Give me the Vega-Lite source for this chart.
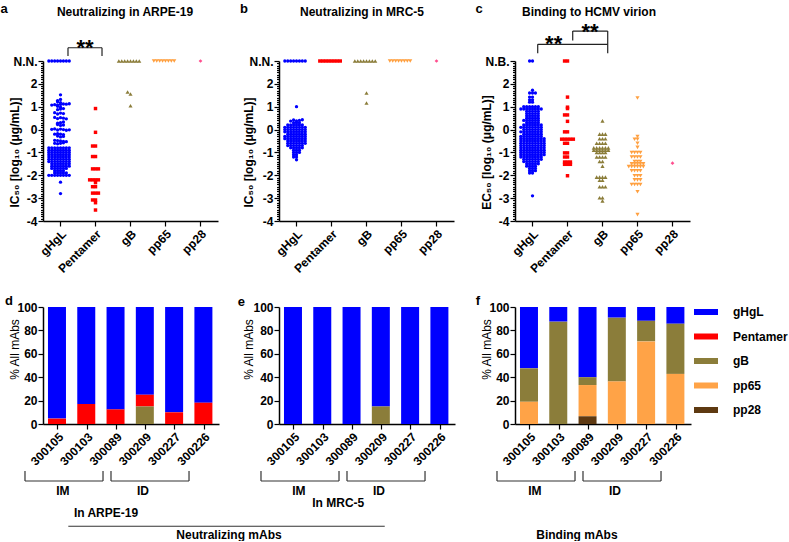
{
"$schema":"https://vega.github.io/schema/vega-lite/v6.json",
"padding":{"left":0,"top":2,"right":0,"bottom":0},
"background":"white",
"config":{"view":{"stroke":null},"font":"Liberation Sans","axis":{"grid":false,"domainColor":"black","tickColor":"black","labelColor":"black","titleColor":"black","labelFont":"Liberation Sans","titleFont":"Liberation Sans","domainWidth":1.5,"tickWidth":1.2}},
"datasets":{
"a":[
{"target":"gHgL","value":3},{"target":"gHgL","value":3},{"target":"gHgL","value":3},{"target":"gHgL","value":3},{"target":"gHgL","value":3},{"target":"gHgL","value":3},{"target":"gHgL","value":3},{"target":"gHgL","value":3},
{"target":"gHgL","value":1.52},{"target":"gHgL","value":1.32},{"target":"gHgL","value":1.27},{"target":"gHgL","value":1.18},{"target":"gHgL","value":1.22},
{"target":"gHgL","value":1.1},{"target":"gHgL","value":1.08},{"target":"gHgL","value":1.12},{"target":"gHgL","value":1.09},{"target":"gHgL","value":1.11},{"target":"gHgL","value":1.07},{"target":"gHgL","value":1.13},
{"target":"gHgL","value":0.98},{"target":"gHgL","value":1.02},{"target":"gHgL","value":0.9},{"target":"gHgL","value":0.87},{"target":"gHgL","value":0.92},
{"target":"gHgL","value":0.72},{"target":"gHgL","value":0.68},{"target":"gHgL","value":0.7},{"target":"gHgL","value":0.74},
{"target":"gHgL","value":0.52},{"target":"gHgL","value":0.48},{"target":"gHgL","value":0.5},{"target":"gHgL","value":0.53},{"target":"gHgL","value":0.47},
{"target":"gHgL","value":0.3},{"target":"gHgL","value":0.28},{"target":"gHgL","value":0.33},{"target":"gHgL","value":0.18},{"target":"gHgL","value":0.22},{"target":"gHgL","value":0.2},
{"target":"gHgL","value":0.02},{"target":"gHgL","value":-0.02},{"target":"gHgL","value":0},{"target":"gHgL","value":0.03},{"target":"gHgL","value":-0.03},{"target":"gHgL","value":0.01},{"target":"gHgL","value":-0.01},
{"target":"gHgL","value":-0.2},{"target":"gHgL","value":-0.18},{"target":"gHgL","value":-0.22},{"target":"gHgL","value":-0.2},
{"target":"gHgL","value":-0.32},{"target":"gHgL","value":-0.28},{"target":"gHgL","value":-0.3},
{"target":"gHgL","value":-0.5},{"target":"gHgL","value":-0.48},{"target":"gHgL","value":-0.52},{"target":"gHgL","value":-0.47},{"target":"gHgL","value":-0.53},
{"target":"gHgL","value":-0.6},{"target":"gHgL","value":-0.62},{"target":"gHgL","value":-0.58},{"target":"gHgL","value":-0.6},
{"target":"gHgL","value":-0.8},{"target":"gHgL","value":-0.8},{"target":"gHgL","value":-0.8},{"target":"gHgL","value":-0.8},{"target":"gHgL","value":-0.8},{"target":"gHgL","value":-0.8},{"target":"gHgL","value":-0.8},{"target":"gHgL","value":-0.8},
{"target":"gHgL","value":-0.9},{"target":"gHgL","value":-0.9},{"target":"gHgL","value":-0.9},{"target":"gHgL","value":-0.9},{"target":"gHgL","value":-0.9},{"target":"gHgL","value":-0.9},{"target":"gHgL","value":-0.9},{"target":"gHgL","value":-0.9},
{"target":"gHgL","value":-1},{"target":"gHgL","value":-1},{"target":"gHgL","value":-1},{"target":"gHgL","value":-1},{"target":"gHgL","value":-1},{"target":"gHgL","value":-1},{"target":"gHgL","value":-1},{"target":"gHgL","value":-1},
{"target":"gHgL","value":-1.1},{"target":"gHgL","value":-1.1},{"target":"gHgL","value":-1.1},{"target":"gHgL","value":-1.1},{"target":"gHgL","value":-1.1},{"target":"gHgL","value":-1.1},{"target":"gHgL","value":-1.1},{"target":"gHgL","value":-1.1},
{"target":"gHgL","value":-1.2},{"target":"gHgL","value":-1.2},{"target":"gHgL","value":-1.2},{"target":"gHgL","value":-1.2},{"target":"gHgL","value":-1.2},{"target":"gHgL","value":-1.2},{"target":"gHgL","value":-1.2},{"target":"gHgL","value":-1.2},
{"target":"gHgL","value":-1.3},{"target":"gHgL","value":-1.3},{"target":"gHgL","value":-1.3},{"target":"gHgL","value":-1.3},{"target":"gHgL","value":-1.3},{"target":"gHgL","value":-1.3},{"target":"gHgL","value":-1.3},{"target":"gHgL","value":-1.3},
{"target":"gHgL","value":-1.4},{"target":"gHgL","value":-1.4},{"target":"gHgL","value":-1.4},{"target":"gHgL","value":-1.4},{"target":"gHgL","value":-1.4},{"target":"gHgL","value":-1.4},{"target":"gHgL","value":-1.4},{"target":"gHgL","value":-1.4},
{"target":"gHgL","value":-1.5},{"target":"gHgL","value":-1.5},{"target":"gHgL","value":-1.5},{"target":"gHgL","value":-1.5},{"target":"gHgL","value":-1.5},{"target":"gHgL","value":-1.5},{"target":"gHgL","value":-1.5},
{"target":"gHgL","value":-1.6},{"target":"gHgL","value":-1.6},{"target":"gHgL","value":-1.6},{"target":"gHgL","value":-1.6},{"target":"gHgL","value":-1.6},{"target":"gHgL","value":-1.6},{"target":"gHgL","value":-1.6},
{"target":"gHgL","value":-1.7},{"target":"gHgL","value":-1.7},{"target":"gHgL","value":-1.7},{"target":"gHgL","value":-1.7},{"target":"gHgL","value":-1.7},{"target":"gHgL","value":-1.7},
{"target":"gHgL","value":-1.8},{"target":"gHgL","value":-1.8},{"target":"gHgL","value":-1.8},{"target":"gHgL","value":-1.8},
{"target":"gHgL","value":-1.9},{"target":"gHgL","value":-1.9},{"target":"gHgL","value":-1.9},{"target":"gHgL","value":-1.9},{"target":"gHgL","value":-1.9},
{"target":"gHgL","value":-2},{"target":"gHgL","value":-2},{"target":"gHgL","value":-2},{"target":"gHgL","value":-2},{"target":"gHgL","value":-2},{"target":"gHgL","value":-2},{"target":"gHgL","value":-2},{"target":"gHgL","value":-2},
{"target":"gHgL","value":-2.3},{"target":"gHgL","value":-2.8},
{"target":"Pentamer","value":0.92},{"target":"Pentamer","value":-0.12},{"target":"Pentamer","value":-0.72},{"target":"Pentamer","value":-0.72},{"target":"Pentamer","value":-1.18},{"target":"Pentamer","value":-1.18},
{"target":"Pentamer","value":-1.72},{"target":"Pentamer","value":-1.72},{"target":"Pentamer","value":-1.72},
{"target":"Pentamer","value":-2.2},{"target":"Pentamer","value":-2.2},{"target":"Pentamer","value":-2.2},{"target":"Pentamer","value":-2.2},{"target":"Pentamer","value":-2.32},
{"target":"Pentamer","value":-2.5},{"target":"Pentamer","value":-2.5},{"target":"Pentamer","value":-2.78},{"target":"Pentamer","value":-2.78},{"target":"Pentamer","value":-2.78},
{"target":"Pentamer","value":-3.08},{"target":"Pentamer","value":-3.08},{"target":"Pentamer","value":-3.2},{"target":"Pentamer","value":-3.52},
{"target":"gB","value":3},{"target":"gB","value":3},{"target":"gB","value":3},{"target":"gB","value":3},{"target":"gB","value":3},{"target":"gB","value":3},{"target":"gB","value":3},{"target":"gB","value":3},
{"target":"gB","value":1.56},{"target":"gB","value":1.64},{"target":"gB","value":1.04},
{"target":"pp65","value":3},{"target":"pp65","value":3},{"target":"pp65","value":3},{"target":"pp65","value":3},{"target":"pp65","value":3},{"target":"pp65","value":3},{"target":"pp65","value":3},{"target":"pp65","value":3},
{"target":"pp28","value":3}
],
"b":[
{"target":"gHgL","value":3},{"target":"gHgL","value":3},{"target":"gHgL","value":3},{"target":"gHgL","value":3},{"target":"gHgL","value":3},{"target":"gHgL","value":3},{"target":"gHgL","value":3},{"target":"gHgL","value":3},
{"target":"gHgL","value":1},
{"target":"gHgL","value":0.38},{"target":"gHgL","value":0.42},{"target":"gHgL","value":0.4},{"target":"gHgL","value":0.37},{"target":"gHgL","value":0.43},
{"target":"gHgL","value":0.3},{"target":"gHgL","value":0.3},{"target":"gHgL","value":0.3},
{"target":"gHgL","value":0.2},{"target":"gHgL","value":0.2},{"target":"gHgL","value":0.2},{"target":"gHgL","value":0.2},{"target":"gHgL","value":0.2},{"target":"gHgL","value":0.2},
{"target":"gHgL","value":0.1},{"target":"gHgL","value":0.1},{"target":"gHgL","value":0.1},{"target":"gHgL","value":0.1},{"target":"gHgL","value":0.1},{"target":"gHgL","value":0.1},{"target":"gHgL","value":0.1},{"target":"gHgL","value":0.1},
{"target":"gHgL","value":0},{"target":"gHgL","value":0},{"target":"gHgL","value":0},{"target":"gHgL","value":0},{"target":"gHgL","value":0},{"target":"gHgL","value":0},{"target":"gHgL","value":0},{"target":"gHgL","value":0},
{"target":"gHgL","value":-0.1},{"target":"gHgL","value":-0.1},{"target":"gHgL","value":-0.1},{"target":"gHgL","value":-0.1},{"target":"gHgL","value":-0.1},{"target":"gHgL","value":-0.1},{"target":"gHgL","value":-0.1},{"target":"gHgL","value":-0.1},
{"target":"gHgL","value":-0.2},{"target":"gHgL","value":-0.2},{"target":"gHgL","value":-0.2},{"target":"gHgL","value":-0.2},{"target":"gHgL","value":-0.2},{"target":"gHgL","value":-0.2},{"target":"gHgL","value":-0.2},
{"target":"gHgL","value":-0.3},{"target":"gHgL","value":-0.3},{"target":"gHgL","value":-0.3},{"target":"gHgL","value":-0.3},{"target":"gHgL","value":-0.3},{"target":"gHgL","value":-0.3},{"target":"gHgL","value":-0.3},{"target":"gHgL","value":-0.3},
{"target":"gHgL","value":-0.4},{"target":"gHgL","value":-0.4},{"target":"gHgL","value":-0.4},{"target":"gHgL","value":-0.4},{"target":"gHgL","value":-0.4},{"target":"gHgL","value":-0.4},{"target":"gHgL","value":-0.4},{"target":"gHgL","value":-0.4},
{"target":"gHgL","value":-0.5},{"target":"gHgL","value":-0.5},{"target":"gHgL","value":-0.5},{"target":"gHgL","value":-0.5},{"target":"gHgL","value":-0.5},{"target":"gHgL","value":-0.5},{"target":"gHgL","value":-0.5},
{"target":"gHgL","value":-0.6},{"target":"gHgL","value":-0.6},{"target":"gHgL","value":-0.6},{"target":"gHgL","value":-0.6},{"target":"gHgL","value":-0.6},{"target":"gHgL","value":-0.6},{"target":"gHgL","value":-0.6},
{"target":"gHgL","value":-0.7},{"target":"gHgL","value":-0.7},{"target":"gHgL","value":-0.7},{"target":"gHgL","value":-0.7},{"target":"gHgL","value":-0.7},{"target":"gHgL","value":-0.7},
{"target":"gHgL","value":-0.8},{"target":"gHgL","value":-0.8},{"target":"gHgL","value":-0.8},{"target":"gHgL","value":-0.8},{"target":"gHgL","value":-0.8},
{"target":"gHgL","value":-0.9},{"target":"gHgL","value":-0.9},{"target":"gHgL","value":-0.9},
{"target":"gHgL","value":-1},{"target":"gHgL","value":-1},{"target":"gHgL","value":-1},
{"target":"gHgL","value":-1.1},{"target":"gHgL","value":-1.1},{"target":"gHgL","value":-1.2},{"target":"gHgL","value":-1.2},{"target":"gHgL","value":-1.32},
{"target":"Pentamer","value":3},{"target":"Pentamer","value":3},{"target":"Pentamer","value":3},{"target":"Pentamer","value":3},{"target":"Pentamer","value":3},{"target":"Pentamer","value":3},{"target":"Pentamer","value":3},{"target":"Pentamer","value":3},
{"target":"gB","value":3},{"target":"gB","value":3},{"target":"gB","value":3},{"target":"gB","value":3},{"target":"gB","value":3},{"target":"gB","value":3},{"target":"gB","value":3},{"target":"gB","value":3},
{"target":"gB","value":1.6},{"target":"gB","value":1.16},
{"target":"pp65","value":3},{"target":"pp65","value":3},{"target":"pp65","value":3},{"target":"pp65","value":3},{"target":"pp65","value":3},{"target":"pp65","value":3},{"target":"pp65","value":3},{"target":"pp65","value":3},
{"target":"pp28","value":3}
],
"c":[
{"target":"gHgL","value":3},{"target":"gHgL","value":3},
{"target":"gHgL","value":1.72},{"target":"gHgL","value":1.6},{"target":"gHgL","value":1.6},{"target":"gHgL","value":1.6},
{"target":"gHgL","value":1.42},{"target":"gHgL","value":1.42},{"target":"gHgL","value":1.3},{"target":"gHgL","value":1.3},{"target":"gHgL","value":1.2},{"target":"gHgL","value":1.2},
{"target":"gHgL","value":1},{"target":"gHgL","value":1},{"target":"gHgL","value":1},{"target":"gHgL","value":1},{"target":"gHgL","value":1},{"target":"gHgL","value":1},
{"target":"gHgL","value":0.9},{"target":"gHgL","value":0.9},{"target":"gHgL","value":0.9},{"target":"gHgL","value":0.9},{"target":"gHgL","value":0.9},{"target":"gHgL","value":0.9},{"target":"gHgL","value":0.9},{"target":"gHgL","value":0.9},
{"target":"gHgL","value":0.8},{"target":"gHgL","value":0.8},{"target":"gHgL","value":0.8},{"target":"gHgL","value":0.8},{"target":"gHgL","value":0.8},
{"target":"gHgL","value":0.7},{"target":"gHgL","value":0.7},{"target":"gHgL","value":0.7},{"target":"gHgL","value":0.7},{"target":"gHgL","value":0.7},
{"target":"gHgL","value":0.6},{"target":"gHgL","value":0.6},{"target":"gHgL","value":0.6},{"target":"gHgL","value":0.6},{"target":"gHgL","value":0.6},
{"target":"gHgL","value":0.5},{"target":"gHgL","value":0.5},{"target":"gHgL","value":0.5},{"target":"gHgL","value":0.5},{"target":"gHgL","value":0.5},
{"target":"gHgL","value":0.4},{"target":"gHgL","value":0.4},{"target":"gHgL","value":0.4},{"target":"gHgL","value":0.4},{"target":"gHgL","value":0.4},{"target":"gHgL","value":0.4},
{"target":"gHgL","value":0.3},{"target":"gHgL","value":0.3},{"target":"gHgL","value":0.3},{"target":"gHgL","value":0.3},{"target":"gHgL","value":0.3},
{"target":"gHgL","value":0.2},{"target":"gHgL","value":0.2},{"target":"gHgL","value":0.2},{"target":"gHgL","value":0.2},{"target":"gHgL","value":0.2},{"target":"gHgL","value":0.2},{"target":"gHgL","value":0.2},
{"target":"gHgL","value":0.1},{"target":"gHgL","value":0.1},{"target":"gHgL","value":0.1},{"target":"gHgL","value":0.1},{"target":"gHgL","value":0.1},{"target":"gHgL","value":0.1},{"target":"gHgL","value":0.1},{"target":"gHgL","value":0.1},
{"target":"gHgL","value":0},{"target":"gHgL","value":0},{"target":"gHgL","value":0},{"target":"gHgL","value":0},{"target":"gHgL","value":0},{"target":"gHgL","value":0},{"target":"gHgL","value":0},
{"target":"gHgL","value":-0.1},{"target":"gHgL","value":-0.1},{"target":"gHgL","value":-0.1},{"target":"gHgL","value":-0.1},{"target":"gHgL","value":-0.1},{"target":"gHgL","value":-0.1},{"target":"gHgL","value":-0.1},{"target":"gHgL","value":-0.1},
{"target":"gHgL","value":-0.2},{"target":"gHgL","value":-0.2},{"target":"gHgL","value":-0.2},{"target":"gHgL","value":-0.2},{"target":"gHgL","value":-0.2},{"target":"gHgL","value":-0.2},{"target":"gHgL","value":-0.2},
{"target":"gHgL","value":-0.3},{"target":"gHgL","value":-0.3},{"target":"gHgL","value":-0.3},{"target":"gHgL","value":-0.3},{"target":"gHgL","value":-0.3},{"target":"gHgL","value":-0.3},{"target":"gHgL","value":-0.3},{"target":"gHgL","value":-0.3},
{"target":"gHgL","value":-0.4},{"target":"gHgL","value":-0.4},{"target":"gHgL","value":-0.4},{"target":"gHgL","value":-0.4},{"target":"gHgL","value":-0.4},{"target":"gHgL","value":-0.4},{"target":"gHgL","value":-0.4},{"target":"gHgL","value":-0.4},{"target":"gHgL","value":-0.4},
{"target":"gHgL","value":-0.5},{"target":"gHgL","value":-0.5},{"target":"gHgL","value":-0.5},{"target":"gHgL","value":-0.5},{"target":"gHgL","value":-0.5},{"target":"gHgL","value":-0.5},{"target":"gHgL","value":-0.5},{"target":"gHgL","value":-0.5},{"target":"gHgL","value":-0.5},
{"target":"gHgL","value":-0.6},{"target":"gHgL","value":-0.6},{"target":"gHgL","value":-0.6},{"target":"gHgL","value":-0.6},{"target":"gHgL","value":-0.6},{"target":"gHgL","value":-0.6},{"target":"gHgL","value":-0.6},{"target":"gHgL","value":-0.6},{"target":"gHgL","value":-0.6},
{"target":"gHgL","value":-0.7},{"target":"gHgL","value":-0.7},{"target":"gHgL","value":-0.7},{"target":"gHgL","value":-0.7},{"target":"gHgL","value":-0.7},{"target":"gHgL","value":-0.7},{"target":"gHgL","value":-0.7},{"target":"gHgL","value":-0.7},{"target":"gHgL","value":-0.7},
{"target":"gHgL","value":-0.8},{"target":"gHgL","value":-0.8},{"target":"gHgL","value":-0.8},{"target":"gHgL","value":-0.8},{"target":"gHgL","value":-0.8},{"target":"gHgL","value":-0.8},{"target":"gHgL","value":-0.8},{"target":"gHgL","value":-0.8},{"target":"gHgL","value":-0.8},
{"target":"gHgL","value":-0.9},{"target":"gHgL","value":-0.9},{"target":"gHgL","value":-0.9},{"target":"gHgL","value":-0.9},{"target":"gHgL","value":-0.9},{"target":"gHgL","value":-0.9},{"target":"gHgL","value":-0.9},{"target":"gHgL","value":-0.9},{"target":"gHgL","value":-0.9},
{"target":"gHgL","value":-1},{"target":"gHgL","value":-1},{"target":"gHgL","value":-1},{"target":"gHgL","value":-1},{"target":"gHgL","value":-1},{"target":"gHgL","value":-1},{"target":"gHgL","value":-1},{"target":"gHgL","value":-1},{"target":"gHgL","value":-1},
{"target":"gHgL","value":-1.1},{"target":"gHgL","value":-1.1},{"target":"gHgL","value":-1.1},{"target":"gHgL","value":-1.1},{"target":"gHgL","value":-1.1},{"target":"gHgL","value":-1.1},{"target":"gHgL","value":-1.1},{"target":"gHgL","value":-1.1},{"target":"gHgL","value":-1.1},
{"target":"gHgL","value":-1.2},{"target":"gHgL","value":-1.2},{"target":"gHgL","value":-1.2},{"target":"gHgL","value":-1.2},{"target":"gHgL","value":-1.2},{"target":"gHgL","value":-1.2},{"target":"gHgL","value":-1.2},{"target":"gHgL","value":-1.2},
{"target":"gHgL","value":-1.3},{"target":"gHgL","value":-1.3},{"target":"gHgL","value":-1.3},{"target":"gHgL","value":-1.3},{"target":"gHgL","value":-1.3},{"target":"gHgL","value":-1.3},{"target":"gHgL","value":-1.3},
{"target":"gHgL","value":-1.4},{"target":"gHgL","value":-1.4},{"target":"gHgL","value":-1.4},{"target":"gHgL","value":-1.4},{"target":"gHgL","value":-1.4},{"target":"gHgL","value":-1.4},
{"target":"gHgL","value":-1.5},{"target":"gHgL","value":-1.5},{"target":"gHgL","value":-1.5},{"target":"gHgL","value":-1.5},{"target":"gHgL","value":-1.5},
{"target":"gHgL","value":-1.6},{"target":"gHgL","value":-1.6},{"target":"gHgL","value":-1.6},{"target":"gHgL","value":-1.6},
{"target":"gHgL","value":-1.7},{"target":"gHgL","value":-1.7},{"target":"gHgL","value":-1.7},
{"target":"gHgL","value":-1.8},{"target":"gHgL","value":-1.8},{"target":"gHgL","value":-1.8},
{"target":"gHgL","value":-1.9},{"target":"gHgL","value":-1.9},{"target":"gHgL","value":-2.9},
{"target":"Pentamer","value":3},{"target":"Pentamer","value":3},{"target":"Pentamer","value":1.42},{"target":"Pentamer","value":0.98},{"target":"Pentamer","value":0.92},
{"target":"Pentamer","value":0.64},{"target":"Pentamer","value":0.64},{"target":"Pentamer","value":0.36},{"target":"Pentamer","value":-0.1},{"target":"Pentamer","value":-0.1},
{"target":"Pentamer","value":-0.42},{"target":"Pentamer","value":-0.42},{"target":"Pentamer","value":-0.42},{"target":"Pentamer","value":-0.42},{"target":"Pentamer","value":-0.42},
{"target":"Pentamer","value":-0.6},{"target":"Pentamer","value":-0.6},{"target":"Pentamer","value":-1.02},{"target":"Pentamer","value":-1.02},{"target":"Pentamer","value":-1.2},{"target":"Pentamer","value":-1.2},
{"target":"Pentamer","value":-1.42},{"target":"Pentamer","value":-1.42},{"target":"Pentamer","value":-1.42},{"target":"Pentamer","value":-1.52},{"target":"Pentamer","value":-1.52},{"target":"Pentamer","value":-1.52},{"target":"Pentamer","value":-2.02},
{"target":"gB","value":0.38},{"target":"gB","value":-0.2},{"target":"gB","value":-0.2},{"target":"gB","value":-0.2},{"target":"gB","value":-0.4},{"target":"gB","value":-0.4},{"target":"gB","value":-0.4},
{"target":"gB","value":-0.6},{"target":"gB","value":-0.6},{"target":"gB","value":-0.6},{"target":"gB","value":-0.6},
{"target":"gB","value":-0.8},{"target":"gB","value":-0.8},{"target":"gB","value":-0.8},{"target":"gB","value":-0.8},{"target":"gB","value":-0.8},{"target":"gB","value":-0.8},
{"target":"gB","value":-0.9},{"target":"gB","value":-0.9},{"target":"gB","value":-0.9},{"target":"gB","value":-0.9},{"target":"gB","value":-0.9},{"target":"gB","value":-0.9},
{"target":"gB","value":-1},{"target":"gB","value":-1},{"target":"gB","value":-1},{"target":"gB","value":-1},
{"target":"gB","value":-1.2},{"target":"gB","value":-1.2},{"target":"gB","value":-1.2},{"target":"gB","value":-1.2},
{"target":"gB","value":-1.4},{"target":"gB","value":-1.4},{"target":"gB","value":-1.6},
{"target":"gB","value":-2.08},{"target":"gB","value":-2.08},{"target":"gB","value":-2.08},{"target":"gB","value":-2.08},{"target":"gB","value":-2.22},{"target":"gB","value":-2.22},
{"target":"gB","value":-2.5},{"target":"gB","value":-2.5},{"target":"gB","value":-2.5},{"target":"gB","value":-2.98},{"target":"gB","value":-2.98},{"target":"gB","value":-3.12},
{"target":"pp65","value":1.38},{"target":"pp65","value":-0.3},{"target":"pp65","value":-0.42},{"target":"pp65","value":-0.42},{"target":"pp65","value":-0.6},{"target":"pp65","value":-0.78},
{"target":"pp65","value":-1},{"target":"pp65","value":-1},{"target":"pp65","value":-1},{"target":"pp65","value":-1},
{"target":"pp65","value":-1.2},{"target":"pp65","value":-1.2},{"target":"pp65","value":-1.2},{"target":"pp65","value":-1.2},
{"target":"pp65","value":-1.4},{"target":"pp65","value":-1.4},{"target":"pp65","value":-1.4},
{"target":"pp65","value":-1.5},{"target":"pp65","value":-1.5},{"target":"pp65","value":-1.5},{"target":"pp65","value":-1.5},{"target":"pp65","value":-1.5},
{"target":"pp65","value":-1.62},{"target":"pp65","value":-1.62},{"target":"pp65","value":-1.62},{"target":"pp65","value":-1.62},{"target":"pp65","value":-1.62},{"target":"pp65","value":-1.62},
{"target":"pp65","value":-1.8},{"target":"pp65","value":-1.8},{"target":"pp65","value":-1.8},{"target":"pp65","value":-1.8},
{"target":"pp65","value":-2.02},{"target":"pp65","value":-2.02},{"target":"pp65","value":-2.02},{"target":"pp65","value":-2.2},{"target":"pp65","value":-2.2},{"target":"pp65","value":-2.2},
{"target":"pp65","value":-2.4},{"target":"pp65","value":-2.4},{"target":"pp65","value":-2.4},{"target":"pp65","value":-2.4},{"target":"pp65","value":-2.72},{"target":"pp65","value":-3.72},
{"target":"pp28","value":-1.47}
],
"d":[
{"donor":"300105","target":"gHgL","pct":95.4},{"donor":"300105","target":"Pentamer","pct":4.6},
{"donor":"300103","target":"gHgL","pct":82.9},{"donor":"300103","target":"Pentamer","pct":17.1},
{"donor":"300089","target":"gHgL","pct":87.5},{"donor":"300089","target":"Pentamer","pct":12.5},
{"donor":"300209","target":"gHgL","pct":75},{"donor":"300209","target":"Pentamer","pct":10},{"donor":"300209","target":"gB","pct":15},
{"donor":"300227","target":"gHgL","pct":90},{"donor":"300227","target":"Pentamer","pct":10},
{"donor":"300226","target":"gHgL","pct":81.8},{"donor":"300226","target":"Pentamer","pct":18.2}
],
"e":[
{"donor":"300105","target":"gHgL","pct":100},{"donor":"300103","target":"gHgL","pct":100},{"donor":"300089","target":"gHgL","pct":100},
{"donor":"300209","target":"gHgL","pct":85},{"donor":"300209","target":"gB","pct":15},
{"donor":"300227","target":"gHgL","pct":100},{"donor":"300226","target":"gHgL","pct":100}
],
"f":[
{"donor":"300105","target":"gHgL","pct":52.4},{"donor":"300105","target":"gB","pct":28.6},{"donor":"300105","target":"pp65","pct":19},
{"donor":"300103","target":"gHgL","pct":12.5},{"donor":"300103","target":"gB","pct":87.5},
{"donor":"300089","target":"gHgL","pct":60},{"donor":"300089","target":"gB","pct":6.7},{"donor":"300089","target":"pp65","pct":26.7},{"donor":"300089","target":"pp28","pct":6.6},
{"donor":"300209","target":"gHgL","pct":9.1},{"donor":"300209","target":"gB","pct":54.5},{"donor":"300209","target":"pp65","pct":36.4},
{"donor":"300227","target":"gHgL","pct":11.8},{"donor":"300227","target":"gB","pct":17.6},{"donor":"300227","target":"pp65","pct":70.6},
{"donor":"300226","target":"gHgL","pct":14.3},{"donor":"300226","target":"gB","pct":42.9},{"donor":"300226","target":"pp65","pct":42.8}
]
},
"concat":[
{"width":175,"height":160,
"layer":[
{"data":{"name":"a"},
"transform":[{"bin":{"step":0.1,"extent":[-4.05,3.15],"nice":false},"field":"value","as":"vbin"},{"window":[{"op":"row_number","as":"slot"}],"groupby":["target","vbin"]}],
"mark":{"type":"point","filled":true,"opacity":1,"strokeWidth":0},
"encoding":{
"x":{"field":"target","type":"nominal","scale":{"domain":["gHgL","Pentamer","gB","pp65","pp28"],"paddingInner":0,"paddingOuter":0},"axis":{"title":null,"labelAngle":-45,"labelFontSize":12,"labelFontWeight":"bold","tickSize":5,"labelPadding":2}},
"xOffset":{"field":"slot","type":"nominal","scale":{"domain":[12,10,8,6,4,2,1,3,5,7,9,11,13],"paddingInner":0,"paddingOuter":0}},
"y":{"field":"value","type":"quantitative","scale":{"domain":[-4,3],"nice":false,"zero":false},"axis":{"title":"IC₅₀ [log₁₀ (μg/mL)]","titleFontSize":12,"titleFontWeight":"bold","titleX":-29,"titleY":91,"titleAngle":270,"titleAlign":"center","titleBaseline":"middle","values":[-4,-3.9,-3.8,-3.7,-3.6,-3.5,-3.4,-3.3,-3.2,-3.1,-3,-2.9,-2.8,-2.7,-2.6,-2.5,-2.4,-2.3,-2.2,-2.1,-2,-1.9,-1.8,-1.7,-1.6,-1.5,-1.4,-1.3,-1.2,-1.1,-1,-0.9,-0.8,-0.7,-0.6,-0.5,-0.4,-0.3,-0.2,-0.1,0,0.1,0.2,0.3,0.4,0.5,0.6,0.7,0.8,0.9,1,1.1,1.2,1.3,1.4,1.5,1.6,1.7,1.8,1.9,2,2.1,2.2,2.3,2.4,2.5,2.6,2.7,2.8,2.9,3],"labelExpr":"datum.value > 2.99 ? 'N.N.' : (abs(datum.value - round(datum.value)) < 0.001 ? '' + round(datum.value) : '')","labelOverlap":false,"labelFontSize":12,"labelFontWeight":"bold","labelPadding":1,"tickSize":{"condition":{"test":"abs(datum.value - round(datum.value)) < 0.001","value":5},"value":2.5}}},
"color":{"field":"target","type":"nominal","scale":{"domain":["gHgL","Pentamer","gB","pp65","pp28"],"range":["#0000FF","#FF0000","#8B7D3A","#FFA040","#FF4F8F"]},"legend":null},
"shape":{"field":"target","type":"nominal","scale":{"domain":["gHgL","Pentamer","gB","pp65","pp28"],"range":["circle","square","triangle-up","triangle-down","diamond"]},"legend":null},
"size":{"field":"target","type":"nominal","scale":{"type":"ordinal","domain":["gHgL","Pentamer","gB","pp65","pp28"],"range":[11,12,17,17,14]},"legend":null}
}},
{"data":{"values":[{"x":0.714,"x2":0.714,"y":3.22,"y2":3.58},{"x":0.714,"x2":1.686,"y":3.58,"y2":3.58},{"x":1.686,"x2":1.686,"y":3.22,"y2":3.58}]},
"mark":{"type":"rule","strokeWidth":1.2,"color":"#222222"},
"encoding":{"x":{"field":"x","type":"quantitative","scale":{"domain":[0,5],"nice":false,"zero":false},"axis":null},"x2":{"field":"x2"},"y":{"field":"y","type":"quantitative","scale":{"domain":[-4,3],"nice":false,"zero":false},"axis":null},"y2":{"field":"y2"}}},
{"data":{"values":[{"x":1.2,"y":3.25,"label":"**"}]},
"mark":{"type":"text","fontSize":22,"fontWeight":"bold","font":"Liberation Sans","baseline":"alphabetic","align":"center","color":"black"},
"encoding":{"x":{"field":"x","type":"quantitative","scale":{"domain":[0,5],"nice":false,"zero":false},"axis":null},"y":{"field":"y","type":"quantitative","scale":{"domain":[-4,3],"nice":false,"zero":false},"axis":null},"text":{"field":"label"}}},
{"data":{"values":[{}]},
"mark":{"type":"text","text":"Neutralizing in ARPE-19","fontSize":12,"fontWeight":"bold","font":"Liberation Sans","baseline":"alphabetic","align":"center","color":"black"},
"encoding":{"x":{"datum":2.343,"type":"quantitative","scale":{"domain":[0,5],"nice":false,"zero":false},"axis":null},"y":{"datum":4.947,"type":"quantitative","scale":{"domain":[-4,3],"nice":false,"zero":false},"axis":null}}},
{"data":{"values":[{}]},
"mark":{"type":"text","text":"a","fontSize":13,"fontWeight":"bold","font":"Liberation Sans","baseline":"alphabetic","align":"center","color":"black"},
"encoding":{"x":{"datum":-1.114,"type":"quantitative","scale":{"domain":[0,5],"nice":false,"zero":false},"axis":null},"y":{"datum":5.1,"type":"quantitative","scale":{"domain":[-4,3],"nice":false,"zero":false},"axis":null}}}
],
"resolve":{"scale":{"x":"independent"},"axis":{"y":"independent"}}},
{"width":175,"height":160,
"layer":[
{"data":{"name":"b"},
"transform":[{"bin":{"step":0.1,"extent":[-4.05,3.15],"nice":false},"field":"value","as":"vbin"},{"window":[{"op":"row_number","as":"slot"}],"groupby":["target","vbin"]}],
"mark":{"type":"point","filled":true,"opacity":1,"strokeWidth":0},
"encoding":{
"x":{"field":"target","type":"nominal","scale":{"domain":["gHgL","Pentamer","gB","pp65","pp28"],"paddingInner":0,"paddingOuter":0},"axis":{"title":null,"labelAngle":-45,"labelFontSize":12,"labelFontWeight":"bold","tickSize":5,"labelPadding":2}},
"xOffset":{"field":"slot","type":"nominal","scale":{"domain":[12,10,8,6,4,2,1,3,5,7,9,11,13],"paddingInner":0,"paddingOuter":0}},
"y":{"field":"value","type":"quantitative","scale":{"domain":[-4,3],"nice":false,"zero":false},"axis":{"title":"IC₅₀ [log₁₀ (μg/mL)]","titleFontSize":12,"titleFontWeight":"bold","titleX":-31,"titleY":91,"titleAngle":270,"titleAlign":"center","titleBaseline":"middle","values":[-4,-3.9,-3.8,-3.7,-3.6,-3.5,-3.4,-3.3,-3.2,-3.1,-3,-2.9,-2.8,-2.7,-2.6,-2.5,-2.4,-2.3,-2.2,-2.1,-2,-1.9,-1.8,-1.7,-1.6,-1.5,-1.4,-1.3,-1.2,-1.1,-1,-0.9,-0.8,-0.7,-0.6,-0.5,-0.4,-0.3,-0.2,-0.1,0,0.1,0.2,0.3,0.4,0.5,0.6,0.7,0.8,0.9,1,1.1,1.2,1.3,1.4,1.5,1.6,1.7,1.8,1.9,2,2.1,2.2,2.3,2.4,2.5,2.6,2.7,2.8,2.9,3],"labelExpr":"datum.value > 2.99 ? 'N.N.' : (abs(datum.value - round(datum.value)) < 0.001 ? '' + round(datum.value) : '')","labelOverlap":false,"labelFontSize":12,"labelFontWeight":"bold","labelPadding":1,"tickSize":{"condition":{"test":"abs(datum.value - round(datum.value)) < 0.001","value":5},"value":2.5}}},
"color":{"field":"target","type":"nominal","scale":{"domain":["gHgL","Pentamer","gB","pp65","pp28"],"range":["#0000FF","#FF0000","#8B7D3A","#FFA040","#FF4F8F"]},"legend":null},
"shape":{"field":"target","type":"nominal","scale":{"domain":["gHgL","Pentamer","gB","pp65","pp28"],"range":["circle","square","triangle-up","triangle-down","diamond"]},"legend":null},
"size":{"field":"target","type":"nominal","scale":{"type":"ordinal","domain":["gHgL","Pentamer","gB","pp65","pp28"],"range":[11,12,17,17,14]},"legend":null}
}},
{"data":{"values":[{}]},
"mark":{"type":"text","text":"Neutralizing in MRC-5","fontSize":12,"fontWeight":"bold","font":"Liberation Sans","baseline":"alphabetic","align":"center","color":"black"},
"encoding":{"x":{"datum":2.371,"type":"quantitative","scale":{"domain":[0,5],"nice":false,"zero":false},"axis":null},"y":{"datum":4.947,"type":"quantitative","scale":{"domain":[-4,3],"nice":false,"zero":false},"axis":null}}},
{"data":{"values":[{}]},
"mark":{"type":"text","text":"b","fontSize":13,"fontWeight":"bold","font":"Liberation Sans","baseline":"alphabetic","align":"center","color":"black"},
"encoding":{"x":{"datum":-1.0,"type":"quantitative","scale":{"domain":[0,5],"nice":false,"zero":false},"axis":null},"y":{"datum":5.1,"type":"quantitative","scale":{"domain":[-4,3],"nice":false,"zero":false},"axis":null}}}
],
"resolve":{"scale":{"x":"independent"},"axis":{"y":"independent"}}},
{"width":175,"height":160,
"layer":[
{"data":{"name":"c"},
"transform":[{"bin":{"step":0.1,"extent":[-4.05,3.15],"nice":false},"field":"value","as":"vbin"},{"window":[{"op":"row_number","as":"slot"}],"groupby":["target","vbin"]}],
"mark":{"type":"point","filled":true,"opacity":1,"strokeWidth":0},
"encoding":{
"x":{"field":"target","type":"nominal","scale":{"domain":["gHgL","Pentamer","gB","pp65","pp28"],"paddingInner":0,"paddingOuter":0},"axis":{"title":null,"labelAngle":-45,"labelFontSize":12,"labelFontWeight":"bold","tickSize":5,"labelPadding":2}},
"xOffset":{"field":"slot","type":"nominal","scale":{"domain":[12,10,8,6,4,2,1,3,5,7,9,11,13],"paddingInner":0,"paddingOuter":0}},
"y":{"field":"value","type":"quantitative","scale":{"domain":[-4,3],"nice":false,"zero":false},"axis":{"title":"EC₅₀ [log₁₀ (μg/mL)]","titleFontSize":12,"titleFontWeight":"bold","titleX":-29,"titleY":91,"titleAngle":270,"titleAlign":"center","titleBaseline":"middle","values":[-4,-3.9,-3.8,-3.7,-3.6,-3.5,-3.4,-3.3,-3.2,-3.1,-3,-2.9,-2.8,-2.7,-2.6,-2.5,-2.4,-2.3,-2.2,-2.1,-2,-1.9,-1.8,-1.7,-1.6,-1.5,-1.4,-1.3,-1.2,-1.1,-1,-0.9,-0.8,-0.7,-0.6,-0.5,-0.4,-0.3,-0.2,-0.1,0,0.1,0.2,0.3,0.4,0.5,0.6,0.7,0.8,0.9,1,1.1,1.2,1.3,1.4,1.5,1.6,1.7,1.8,1.9,2,2.1,2.2,2.3,2.4,2.5,2.6,2.7,2.8,2.9,3],"labelExpr":"datum.value > 2.99 ? 'N.B.' : (abs(datum.value - round(datum.value)) < 0.001 ? '' + round(datum.value) : '')","labelOverlap":false,"labelFontSize":12,"labelFontWeight":"bold","labelPadding":1,"tickSize":{"condition":{"test":"abs(datum.value - round(datum.value)) < 0.001","value":5},"value":2.5}}},
"color":{"field":"target","type":"nominal","scale":{"domain":["gHgL","Pentamer","gB","pp65","pp28"],"range":["#0000FF","#FF0000","#8B7D3A","#FFA040","#FF4F8F"]},"legend":null},
"shape":{"field":"target","type":"nominal","scale":{"domain":["gHgL","Pentamer","gB","pp65","pp28"],"range":["circle","square","triangle-up","triangle-down","diamond"]},"legend":null},
"size":{"field":"target","type":"nominal","scale":{"type":"ordinal","domain":["gHgL","Pentamer","gB","pp65","pp28"],"range":[11,12,17,17,14]},"legend":null}
}},
{"data":{"values":[{"x":0.649,"x2":0.649,"y":3.34,"y2":3.73},{"x":0.649,"x2":2.649,"y":3.73,"y2":3.73},{"x":2.649,"x2":2.649,"y":3.34,"y2":4.31},{"x":1.649,"x2":1.649,"y":3.9,"y2":4.31},{"x":1.649,"x2":2.649,"y":4.31,"y2":4.31}]},
"mark":{"type":"rule","strokeWidth":1.2,"color":"#222222"},
"encoding":{"x":{"field":"x","type":"quantitative","scale":{"domain":[0,5],"nice":false,"zero":false},"axis":null},"x2":{"field":"x2"},"y":{"field":"y","type":"quantitative","scale":{"domain":[-4,3],"nice":false,"zero":false},"axis":null},"y2":{"field":"y2"}}},
{"data":{"values":[{"x":1.105,"y":3.44,"label":"**"},{"x":2.143,"y":3.98,"label":"**"}]},
"mark":{"type":"text","fontSize":22,"fontWeight":"bold","font":"Liberation Sans","baseline":"alphabetic","align":"center","color":"black"},
"encoding":{"x":{"field":"x","type":"quantitative","scale":{"domain":[0,5],"nice":false,"zero":false},"axis":null},"y":{"field":"y","type":"quantitative","scale":{"domain":[-4,3],"nice":false,"zero":false},"axis":null},"text":{"field":"label"}}},
{"data":{"values":[{}]},
"mark":{"type":"text","text":"Binding to HCMV virion","fontSize":12,"fontWeight":"bold","font":"Liberation Sans","baseline":"alphabetic","align":"center","color":"black"},
"encoding":{"x":{"datum":2.114,"type":"quantitative","scale":{"domain":[0,5],"nice":false,"zero":false},"axis":null},"y":{"datum":4.947,"type":"quantitative","scale":{"domain":[-4,3],"nice":false,"zero":false},"axis":null}}},
{"data":{"values":[{}]},
"mark":{"type":"text","text":"c","fontSize":13,"fontWeight":"bold","font":"Liberation Sans","baseline":"alphabetic","align":"center","color":"black"},
"encoding":{"x":{"datum":-1.029,"type":"quantitative","scale":{"domain":[0,5],"nice":false,"zero":false},"axis":null},"y":{"datum":5.1,"type":"quantitative","scale":{"domain":[-4,3],"nice":false,"zero":false},"axis":null}}}
],
"resolve":{"scale":{"x":"independent"},"axis":{"y":"independent"}}},
{"width":176,"height":117,
"layer":[
{"data":{"name":"d"},
"transform":[{"calculate":"indexof(['pp28','pp65','gB','Pentamer','gHgL'], datum.target)","as":"stackOrder"}],
"mark":{"type":"bar"},
"encoding":{
"x":{"field":"donor","type":"nominal","scale":{"domain":["300105","300103","300089","300209","300227","300226"],"paddingInner":0.33,"paddingOuter":0.17},"axis":{"title":null,"labelAngle":-45,"labelFontSize":12,"labelFontWeight":"bold","tickSize":5,"labelPadding":2}},
"y":{"field":"pct","type":"quantitative","stack":"zero","scale":{"domain":[0,100],"nice":false},"axis":{"title":"% All mAbs","titleFontSize":12,"titleFontWeight":"normal","titleX":-29,"titleY":42,"titleAngle":270,"titleAlign":"center","titleBaseline":"middle","values":[0,20,40,60,80,100],"labelFontSize":12,"labelFontWeight":"bold","tickSize":5,"labelPadding":1}},
"color":{"field":"target","type":"nominal","scale":{"domain":["gHgL","Pentamer","gB","pp65","pp28"],"range":["#0000FF","#FF0000","#8B7D3A","#FFA347","#5E3911"]},"legend":null},
"order":{"field":"stackOrder","type":"quantitative"}
}},
{"data":{"values":[{"x":-0.614,"x2":-0.614,"y":-48.7,"y2":-40.2},{"x":-0.614,"x2":2.046,"y":-48.7,"y2":-48.7},{"x":2.046,"x2":2.046,"y":-48.7,"y2":-40.2},{"x":2.318,"x2":2.318,"y":-48.7,"y2":-40.2},{"x":2.318,"x2":4.978,"y":-48.7,"y2":-48.7},{"x":4.978,"x2":4.978,"y":-48.7,"y2":-40.2},{"x":0.863,"x2":11.65,"y":-87.4,"y2":-87.4}]},
"mark":{"type":"rule","strokeWidth":1.2,"color":"#333333"},
"encoding":{"x":{"field":"x","type":"quantitative","scale":{"domain":[0,6],"nice":false,"zero":false},"axis":null},"x2":{"field":"x2"},"y":{"field":"y","type":"quantitative","scale":{"domain":[0,100],"nice":false,"zero":false},"axis":null},"y2":{"field":"y2"}}},
{"data":{"values":[{"x":0.68,"y":-57.3,"label":"IM"},{"x":3.41,"y":-57.3,"label":"ID"},{"x":2.148,"y":-75.8,"label":"In ARPE-19"},{"x":6.34,"y":-94.6,"label":"Neutralizing mAbs"}]},
"mark":{"type":"text","fontSize":12,"fontWeight":"bold","font":"Liberation Sans","baseline":"middle","align":"center","color":"black"},
"encoding":{"x":{"field":"x","type":"quantitative","scale":{"domain":[0,6],"nice":false,"zero":false},"axis":null},"y":{"field":"y","type":"quantitative","scale":{"domain":[0,100],"nice":false,"zero":false},"axis":null},"text":{"field":"label"}}},
{"data":{"values":[{}]},
"mark":{"type":"text","text":"d","fontSize":13,"fontWeight":"bold","font":"Liberation Sans","baseline":"alphabetic","align":"center","color":"black"},
"encoding":{"x":{"datum":-1.16,"type":"quantitative","scale":{"domain":[0,6],"nice":false,"zero":false},"axis":null},"y":{"datum":101.5,"type":"quantitative","scale":{"domain":[0,100],"nice":false,"zero":false},"axis":null}}}
],
"resolve":{"scale":{"x":"independent"},"axis":{"y":"independent"}}},
{"width":176,"height":117,
"layer":[
{"data":{"name":"e"},
"transform":[{"calculate":"indexof(['pp28','pp65','gB','Pentamer','gHgL'], datum.target)","as":"stackOrder"}],
"mark":{"type":"bar"},
"encoding":{
"x":{"field":"donor","type":"nominal","scale":{"domain":["300105","300103","300089","300209","300227","300226"],"paddingInner":0.33,"paddingOuter":0.17},"axis":{"title":null,"labelAngle":-45,"labelFontSize":12,"labelFontWeight":"bold","tickSize":5,"labelPadding":2}},
"y":{"field":"pct","type":"quantitative","stack":"zero","scale":{"domain":[0,100],"nice":false},"axis":{"title":"% All mAbs","titleFontSize":12,"titleFontWeight":"normal","titleX":-31,"titleY":42,"titleAngle":270,"titleAlign":"center","titleBaseline":"middle","values":[0,20,40,60,80,100],"labelFontSize":12,"labelFontWeight":"bold","tickSize":5,"labelPadding":1}},
"color":{"field":"target","type":"nominal","scale":{"domain":["gHgL","Pentamer","gB","pp65","pp28"],"range":["#0000FF","#FF0000","#8B7D3A","#FFA347","#5E3911"]},"legend":null},
"order":{"field":"stackOrder","type":"quantitative"}
}},
{"data":{"values":[{"x":-0.614,"x2":-0.614,"y":-48.7,"y2":-40.2},{"x":-0.614,"x2":2.046,"y":-48.7,"y2":-48.7},{"x":2.046,"x2":2.046,"y":-48.7,"y2":-40.2},{"x":2.318,"x2":2.318,"y":-48.7,"y2":-40.2},{"x":2.318,"x2":4.978,"y":-48.7,"y2":-48.7},{"x":4.978,"x2":4.978,"y":-48.7,"y2":-40.2}]},
"mark":{"type":"rule","strokeWidth":1.2,"color":"#333333"},
"encoding":{"x":{"field":"x","type":"quantitative","scale":{"domain":[0,6],"nice":false,"zero":false},"axis":null},"x2":{"field":"x2"},"y":{"field":"y","type":"quantitative","scale":{"domain":[0,100],"nice":false,"zero":false},"axis":null},"y2":{"field":"y2"}}},
{"data":{"values":[{"x":0.68,"y":-57.3,"label":"IM"},{"x":3.41,"y":-57.3,"label":"ID"},{"x":2.02,"y":-67.5,"label":"In MRC-5"}]},
"mark":{"type":"text","fontSize":12,"fontWeight":"bold","font":"Liberation Sans","baseline":"middle","align":"center","color":"black"},
"encoding":{"x":{"field":"x","type":"quantitative","scale":{"domain":[0,6],"nice":false,"zero":false},"axis":null},"y":{"field":"y","type":"quantitative","scale":{"domain":[0,100],"nice":false,"zero":false},"axis":null},"text":{"field":"label"}}},
{"data":{"values":[{}]},
"mark":{"type":"text","text":"e","fontSize":13,"fontWeight":"bold","font":"Liberation Sans","baseline":"alphabetic","align":"center","color":"black"},
"encoding":{"x":{"datum":-1.285,"type":"quantitative","scale":{"domain":[0,6],"nice":false,"zero":false},"axis":null},"y":{"datum":100.9,"type":"quantitative","scale":{"domain":[0,100],"nice":false,"zero":false},"axis":null}}}
],
"resolve":{"scale":{"x":"independent"},"axis":{"y":"independent"}}},
{"width":176,"height":117,
"layer":[
{"data":{"name":"f"},
"transform":[{"calculate":"indexof(['pp28','pp65','gB','Pentamer','gHgL'], datum.target)","as":"stackOrder"}],
"mark":{"type":"bar"},
"encoding":{
"x":{"field":"donor","type":"nominal","scale":{"domain":["300105","300103","300089","300209","300227","300226"],"paddingInner":0.33,"paddingOuter":0.17},"axis":{"title":null,"labelAngle":-45,"labelFontSize":12,"labelFontWeight":"bold","tickSize":5,"labelPadding":2}},
"y":{"field":"pct","type":"quantitative","stack":"zero","scale":{"domain":[0,100],"nice":false},"axis":{"title":"% All mAbs","titleFontSize":12,"titleFontWeight":"normal","titleX":-29,"titleY":42,"titleAngle":270,"titleAlign":"center","titleBaseline":"middle","values":[0,20,40,60,80,100],"labelFontSize":12,"labelFontWeight":"bold","tickSize":5,"labelPadding":1}},
"color":{"field":"target","type":"nominal","scale":{"domain":["gHgL","Pentamer","gB","pp65","pp28"],"range":["#0000FF","#FF0000","#8B7D3A","#FFA347","#5E3911"]},"legend":{"orient":"none","legendX":179,"legendY":-7,"title":null,"symbolType":"M-1,-0.25L1,-0.25L1,0.25L-1,0.25Z","symbolSize":576,"symbolStrokeWidth":0,"labelFontSize":12,"labelFontWeight":"bold","labelFont":"Liberation Sans","labelColor":"black","labelOffset":15,"rowPadding":6.5,"padding":0}},
"order":{"field":"stackOrder","type":"quantitative"}
}},
{"data":{"values":[{"x":-0.614,"x2":-0.614,"y":-48.7,"y2":-40.2},{"x":-0.614,"x2":2.046,"y":-48.7,"y2":-48.7},{"x":2.046,"x2":2.046,"y":-48.7,"y2":-40.2},{"x":2.318,"x2":2.318,"y":-48.7,"y2":-40.2},{"x":2.318,"x2":4.978,"y":-48.7,"y2":-48.7},{"x":4.978,"x2":4.978,"y":-48.7,"y2":-40.2}]},
"mark":{"type":"rule","strokeWidth":1.2,"color":"#333333"},
"encoding":{"x":{"field":"x","type":"quantitative","scale":{"domain":[0,6],"nice":false,"zero":false},"axis":null},"x2":{"field":"x2"},"y":{"field":"y","type":"quantitative","scale":{"domain":[0,100],"nice":false,"zero":false},"axis":null},"y2":{"field":"y2"}}},
{"data":{"values":[{"x":0.68,"y":-57.3,"label":"IM"},{"x":3.41,"y":-57.3,"label":"ID"},{"x":2.11,"y":-94.6,"label":"Binding mAbs"}]},
"mark":{"type":"text","fontSize":12,"fontWeight":"bold","font":"Liberation Sans","baseline":"middle","align":"center","color":"black"},
"encoding":{"x":{"field":"x","type":"quantitative","scale":{"domain":[0,6],"nice":false,"zero":false},"axis":null},"y":{"field":"y","type":"quantitative","scale":{"domain":[0,100],"nice":false,"zero":false},"axis":null},"text":{"field":"label"}}},
{"data":{"values":[{}]},
"mark":{"type":"text","text":"f","fontSize":13,"fontWeight":"bold","font":"Liberation Sans","baseline":"alphabetic","align":"center","color":"black"},
"encoding":{"x":{"datum":-1.26,"type":"quantitative","scale":{"domain":[0,6],"nice":false,"zero":false},"axis":null},"y":{"datum":101.5,"type":"quantitative","scale":{"domain":[0,100],"nice":false,"zero":false},"axis":null}}}
],
"resolve":{"scale":{"x":"independent"},"axis":{"y":"independent"}}}
],
"columns":3,
"spacing":{"row":86,"column":60},
"bounds":"flush",
"align":"each",
"resolve":{"scale":{"color":"independent","shape":"independent","size":"independent"},"legend":{"color":"independent","shape":"independent","size":"independent"}}
}
